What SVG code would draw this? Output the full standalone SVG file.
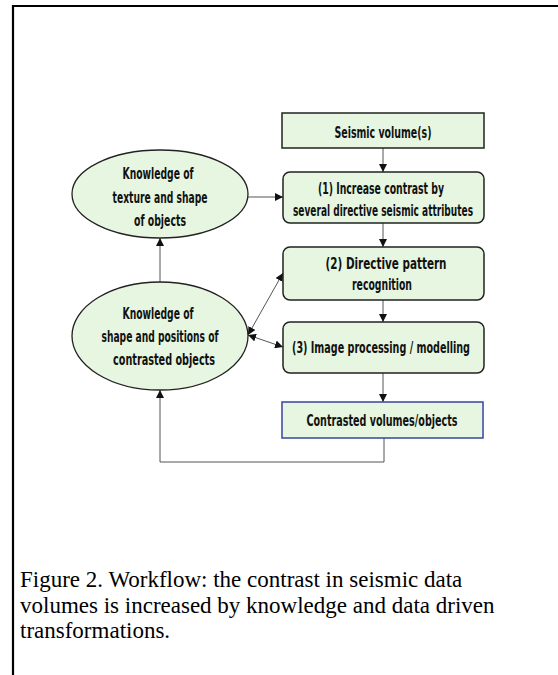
<svg xmlns="http://www.w3.org/2000/svg" width="558" height="675" viewBox="0 0 558 675">
<style>
.box{fill:#e6f6e0;stroke:#222;stroke-width:1.5}
.blue{fill:#e6f6e0;stroke:#3a44a0;stroke-width:1.5}
.ell{fill:#e6f6e0;stroke:#222;stroke-width:1.3}
.t{font-family:"DejaVu Sans Condensed","DejaVu Sans",sans-serif;font-weight:bold;font-size:15px;fill:#111;text-anchor:middle}
.cap{font-family:"Liberation Serif","Times New Roman",serif;font-size:23px;fill:#000}
.c{fill:none;stroke:#555;stroke-width:1}
</style>
<defs>
<marker id="ah" viewBox="0 0 10 10" refX="10" refY="5" markerWidth="8" markerHeight="8" markerUnits="userSpaceOnUse" orient="auto-start-reverse">
<path d="M0,0 L10,5 L0,10 z" fill="#111"/>
</marker>
</defs>
<rect width="558" height="675" fill="#fff"/>
<path d="M13,675 V6 H558" fill="none" stroke="#000" stroke-width="2.2"/>
<g id="connectors">
<line class="c" x1="383" y1="148" x2="383" y2="172" marker-end="url(#ah)"/>
<line class="c" x1="383" y1="223" x2="383" y2="247" marker-end="url(#ah)"/>
<line class="c" x1="383" y1="300" x2="383" y2="322" marker-end="url(#ah)"/>
<line class="c" x1="383" y1="373" x2="383" y2="402" marker-end="url(#ah)"/>
<line class="c" x1="248" y1="197" x2="283" y2="197" marker-end="url(#ah)"/>
<line class="c" x1="160" y1="283" x2="160" y2="238" marker-end="url(#ah)"/>
<line class="c" x1="248" y1="335" x2="283" y2="273" marker-start="url(#ah)" marker-end="url(#ah)"/>
<line class="c" x1="248" y1="335" x2="283" y2="347" marker-start="url(#ah)" marker-end="url(#ah)"/>
<polyline class="c" points="384,438 384,462 160,462 160,390" marker-end="url(#ah)"/>
</g>
<g id="seismic">
<rect class="box" x="282" y="113" width="202" height="35"/>
<text class="t" x="383" y="138" textLength="97" lengthAdjust="spacingAndGlyphs">Seismic volume(s)</text>
</g>
<g id="step1">
<rect class="box" x="283" y="172" width="201" height="51" rx="7"/>
<text class="t" x="381" y="194" textLength="126" lengthAdjust="spacingAndGlyphs">(1) Increase contrast by</text>
<text class="t" x="383" y="216" textLength="180" lengthAdjust="spacingAndGlyphs">several directive seismic attributes</text>
</g>
<g id="step2">
<rect class="box" x="283" y="247" width="201" height="53" rx="7"/>
<text class="t" x="386" y="269" textLength="121" lengthAdjust="spacingAndGlyphs">(2)  Directive pattern</text>
<text class="t" x="382" y="290" textLength="60" lengthAdjust="spacingAndGlyphs">recognition</text>
</g>
<g id="step3">
<rect class="box" x="283" y="322" width="201" height="51" rx="7"/>
<text class="t" x="381" y="353" textLength="178" lengthAdjust="spacingAndGlyphs">(3)  Image processing / modelling</text>
</g>
<g id="contrasted">
<rect class="blue" x="282" y="402" width="201" height="36"/>
<text class="t" x="382" y="426" textLength="151" lengthAdjust="spacingAndGlyphs">Contrasted  volumes/objects</text>
</g>
<g id="knowledge1">
<ellipse class="ell" cx="160" cy="194" rx="88" ry="44"/>
<text class="t" x="158" y="179" textLength="71" lengthAdjust="spacingAndGlyphs">Knowledge of</text>
<text class="t" x="160" y="203" textLength="95" lengthAdjust="spacingAndGlyphs">texture and shape</text>
<text class="t" x="160" y="226" textLength="52" lengthAdjust="spacingAndGlyphs">of objects</text>
</g>
<g id="knowledge2">
<ellipse class="ell" cx="160" cy="336" rx="88" ry="54"/>
<text class="t" x="158" y="319" textLength="71" lengthAdjust="spacingAndGlyphs">Knowledge of</text>
<text class="t" x="160" y="342" textLength="117" lengthAdjust="spacingAndGlyphs">shape and positions of</text>
<text class="t" x="164" y="365" textLength="102" lengthAdjust="spacingAndGlyphs">contrasted objects</text>
</g>
<g id="caption">
<text class="cap" x="20" y="587">Figure 2. Workflow: the contrast in seismic data</text>
<text class="cap" x="20" y="613">volumes is increased by knowledge and data driven</text>
<text class="cap" x="20" y="638">transformations.</text>
</g>
</svg>
